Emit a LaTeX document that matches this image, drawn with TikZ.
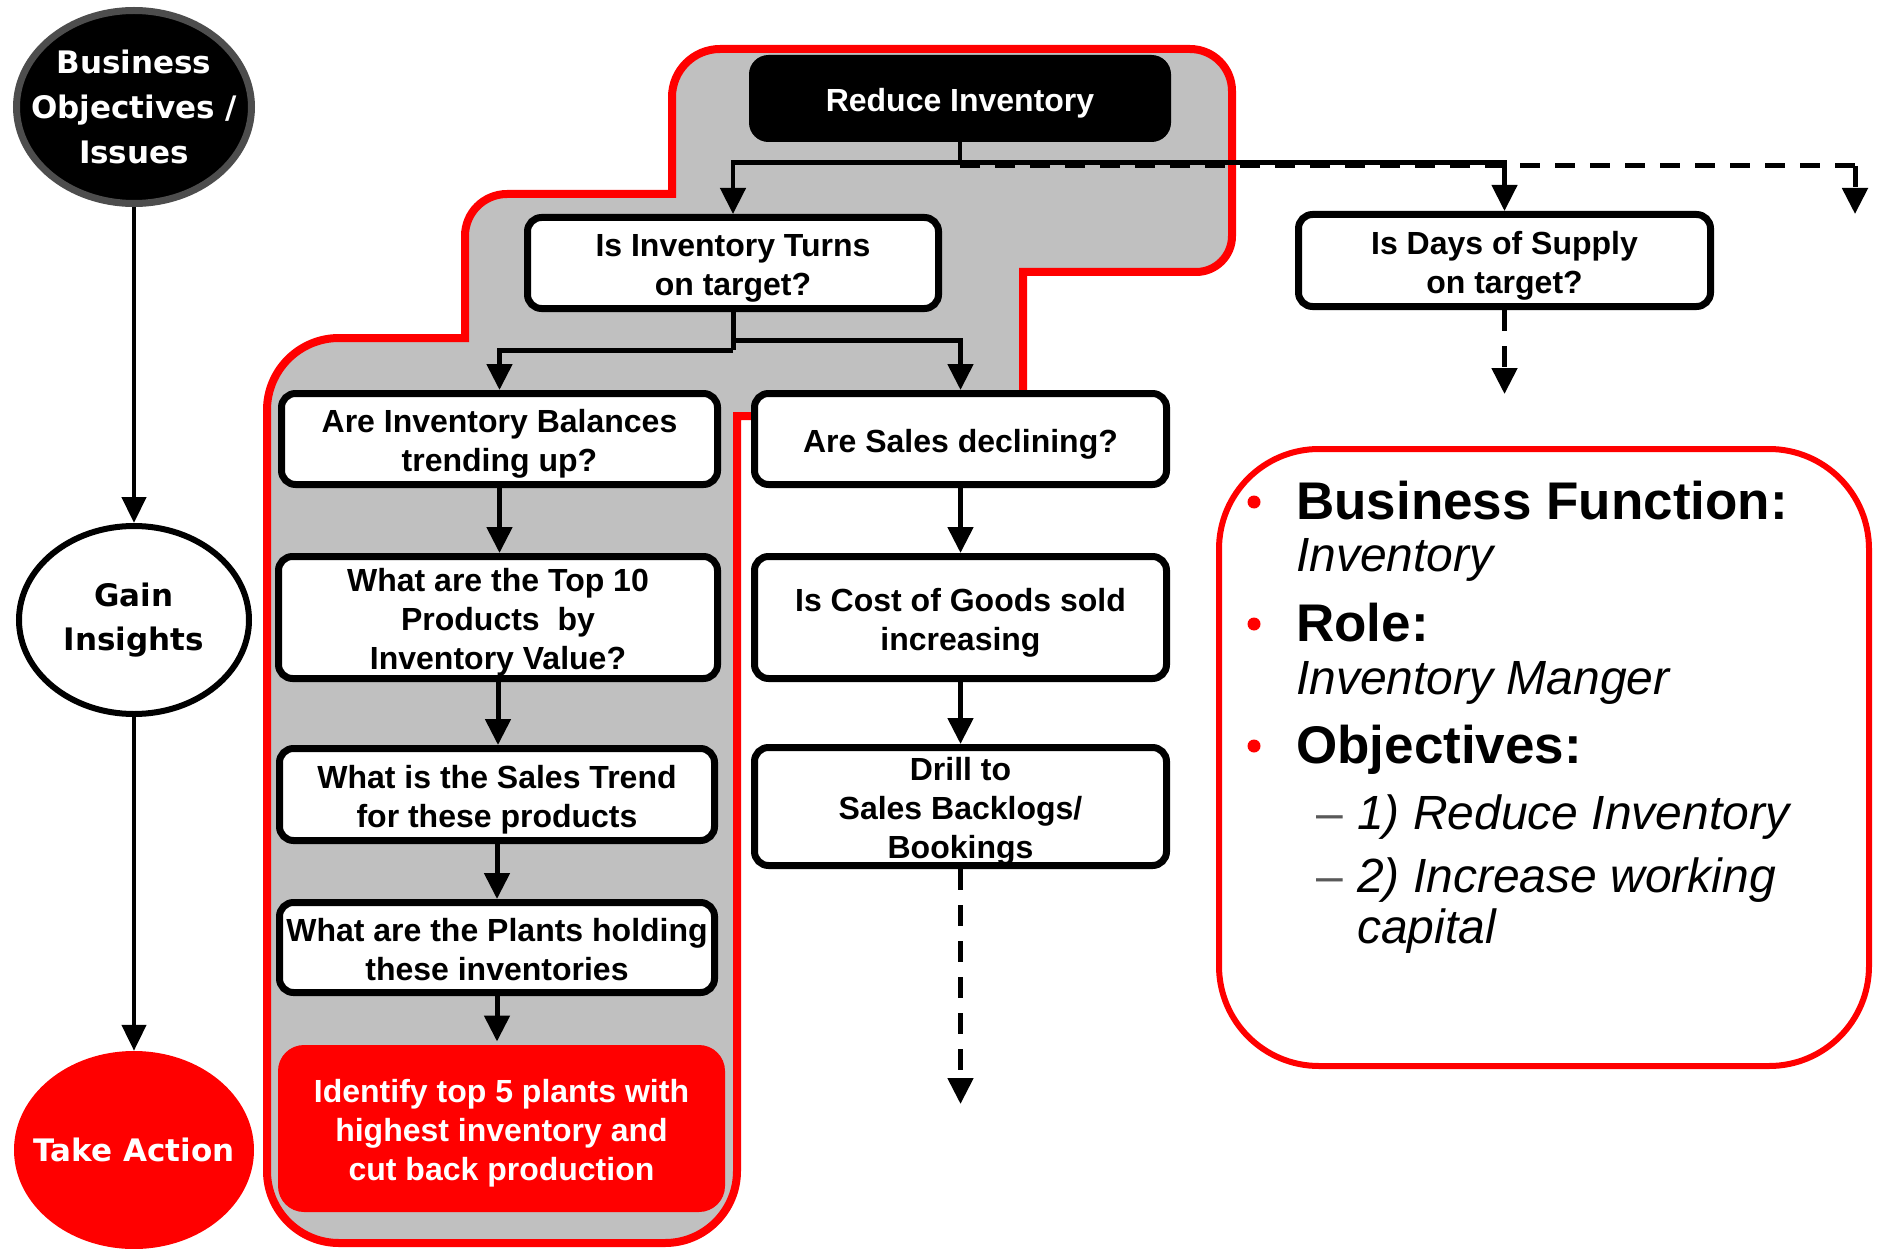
\documentclass[tikz,border=0pt]{standalone}
\usepackage{fontspec}
\setmainfont{Liberation Sans}
\newfontfamily\verd{DejaVu Sans}
\usetikzlibrary{arrows.meta,shapes.geometric}
\definecolor{panelgray}{RGB}{192,192,192}
\definecolor{bordgray}{RGB}{77,77,77}
\definecolor{myred}{RGB}{255,0,0}
\newcommand{\tstrut}{\rule{0pt}{33pt}}
\newcommand{\bstrut}{\rule[-7pt]{0pt}{7pt}}
\begin{document}
\begin{tikzpicture}[x=1pt,y=-1pt,
  conn/.style={line width=5pt,-{Triangle[length=26pt,width=25pt]}},
  lconn/.style={line width=4.5pt,-{Triangle[length=26pt,width=24pt]}},
  dconn/.style={conn,dash pattern=on 21pt off 15pt},
  qbox/.style={draw=black,line width=7pt,rounded corners=14pt,fill=white,align=center,inner sep=0pt,
    font=\bfseries\fontsize{32}{39}\selectfont},
  ell/.style={ellipse,inner sep=0pt},
  etext/.style={inner sep=0pt,align=center,font=\verd\bfseries\fontsize{31}{45}\selectfont},
  head/.style={anchor=base west,inner sep=0pt,font=\bfseries\fontsize{53}{60}\selectfont},
  val/.style={anchor=base west,inner sep=0pt,font=\itshape\fontsize{48}{56}\selectfont},
  bul/.style={circle,fill=myred,inner sep=0pt,minimum size=13pt},
  dsh/.style={anchor=base west,inner sep=0pt,text=black!65,font=\fontsize{48}{56}\selectfont},
]
\useasboundingbox (0,0) rectangle (1881,1249);

% gray panel with red outline
\draw[myred,line width=8pt,fill=panelgray,line join=miter]
  (267,1171) -- (267,410)
  .. controls (267,370.3) and (299.3,338) .. (339,338)
  -- (465,338) -- (465,236)
  .. controls (465,212.8) and (483.8,194) .. (507,194)
  -- (672,194) -- (672,97)
  .. controls (672,70.5) and (693.5,49) .. (720,49)
  -- (1190,49)
  .. controls (1213.2,49) and (1232,67.8) .. (1232,91)
  -- (1232,236)
  .. controls (1232,255.9) and (1215.9,272) .. (1196,272)
  -- (1023,272) -- (1023,416) -- (737,416) -- (737,1171)
  .. controls (737,1210.7) and (704.7,1243) .. (665,1243)
  -- (339,1243)
  .. controls (299.3,1243) and (267,1210.7) .. (267,1171) -- cycle;

% left ellipses
\node[ell,draw=bordgray,line width=7pt,fill=black,minimum width=235pt,minimum height=193pt] (bo) at (134,107) {};
\node[etext,text=white] (botext) at (bo.center) {Business\\Objectives /\\Issues};
\node[ell,draw=black,line width=6pt,fill=white,minimum width=230pt,minimum height=188pt] (gain) at (134,620) {};
\node[etext,font=\verd\bfseries\fontsize{31}{44}\selectfont] (gaintext) at (gain.center) {Gain\\Insights};
\node[ell,fill=myred,minimum width=240pt,minimum height=198pt] (take) at (134,1150) {};
\node[etext,text=white] (taketext) at (take.center) {Take Action};
\draw[lconn] (bo.south) -- (gain.north);
\draw[lconn] (gain.south) -- (take.north);

% boxes
\node[qbox,fill=black,text=white,minimum width=415pt,minimum height=80pt,rounded corners=16pt] (red) at (960,98.5) {\tstrut Reduce Inventory\bstrut};
\node[qbox,minimum width=411pt,minimum height=91pt] (turns) at (733,263) {\tstrut Is Inventory Turns\\on target?\bstrut};
\node[qbox,minimum width=412pt,minimum height=92pt] (days) at (1504.5,260.5) {\tstrut Is Days of Supply\\on target?\bstrut};
\node[qbox,minimum width=436pt,minimum height=91pt] (bal) at (499.5,439) {\tstrut Are Inventory Balances\\trending up?\bstrut};
\node[qbox,minimum width=412pt,minimum height=91pt] (sales) at (960.5,439) {\tstrut Are Sales declining?\bstrut};
\node[qbox,minimum width=439pt,minimum height=122pt] (top10) at (498,617.5) {\tstrut What are the Top 10\\Products\ \ by\\Inventory Value?\bstrut};
\node[qbox,minimum width=435pt,minimum height=92pt] (trend) at (497,794.5) {\tstrut What is the Sales Trend\\for these products\bstrut};
\node[qbox,minimum width=435pt,minimum height=90pt] (plants) at (497,947.5) {\tstrut What are the Plants holding\\these inventories\bstrut};
\node[qbox,draw=none,fill=myred,text=white,minimum width=447pt,minimum height=167pt,rounded corners=26pt] (ident) at (501.5,1128.5) {\tstrut Identify top 5 plants with\\highest inventory and\\cut back production\bstrut};
\node[qbox,minimum width=412pt,minimum height=122pt] (cogs) at (960.5,617.5) {\tstrut Is Cost of Goods sold\\increasing\bstrut};
\node[qbox,minimum width=412pt,minimum height=116pt] (drill) at (960.5,806.5) {\tstrut Drill to\\Sales Backlogs/\\Bookings\bstrut};

% junctions
\coordinate (j1) at (960,162.5);
\coordinate (j1d) at (960,166);
\coordinate (far) at (1855,166);
\coordinate (farend) at (1855,214);
\coordinate (j2) at (733,350);
\coordinate (j3) at (733,340);
\coordinate (dend) at (1504.5,394);
\coordinate (dend2) at (960.5,1104);

% connectors
\draw[line width=5pt,dash pattern=on 20pt off 15pt] (j1d) -- (far);
\draw[dconn] (far) -- (farend);
\draw[line width=4.5pt] (red.south) -- (j1);
\draw[conn,line width=4.5pt] (j1) -| (turns.north);
\draw[conn,line width=4.5pt] (j1) -| (days.north);
\draw[line width=5pt] (turns.south) -- (j2);
\draw[conn] (j2) -| (bal.north);
\draw[conn] (j3) -| (sales.north);
\draw[dconn] (days.south) -- (dend);
\draw[conn] (bal.south) -- (bal.south |- top10.north);
\draw[conn] (top10.south) -- (top10.south |- trend.north);
\draw[conn] (trend.south) -- (trend.south |- plants.north);
\draw[conn] (plants.south) -- (plants.south |- ident.north);
\draw[conn] (sales.south) -- (cogs.north);
\draw[conn] (cogs.south) -- (drill.north);
\draw[dconn] (drill.south) -- (dend2);

% info box
\node[draw=myred,line width=6pt,fill=white,rounded corners=100pt,minimum width=650pt,minimum height=617pt,inner sep=0pt] (info) at (1544,757.5) {};
\node[bul] (b1) at (1254,502) {};
\node[bul] (b2) at (1254,624) {};
\node[bul] (b3) at (1254,746) {};
\node[head] (h1) at (1296,519) {Business Function:};
\node[val] (v1) at (1296,571) {Inventory};
\node[head] (h2) at (1296,641) {Role:};
\node[val] (v2) at (1296,694) {Inventory Manger};
\node[head] (h3) at (1296,763) {Objectives:};
\node[dsh] (d1) at (1316,829) {–};
\node[val] (o1) at (1357,829) {1) Reduce Inventory};
\node[dsh] (d2) at (1316,892) {–};
\node[val] (o2) at (1357,892) {2) Increase working};
\node[val] (o3) at (1357,943) {capital};
\end{tikzpicture}
\end{document}
